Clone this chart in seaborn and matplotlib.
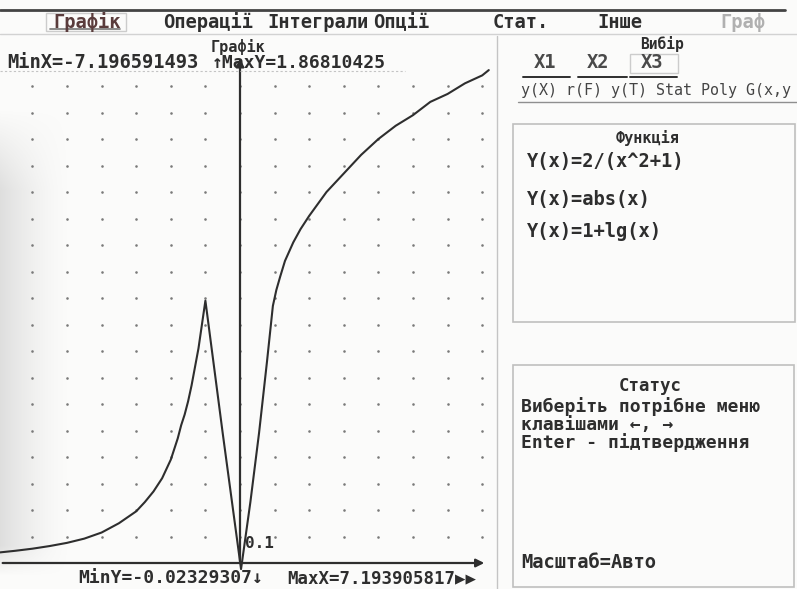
import matplotlib
matplotlib.use("Agg")
import matplotlib.pyplot as plt
import seaborn as sns
import numpy as np
import pandas as pd
from matplotlib.patches import Rectangle
from matplotlib.lines import Line2D

sns.set_theme(style="white")
plt.rcParams['font.family'] = ['DejaVu Sans Mono', 'DejaVu Sans']

# ---- data (piecewise curve) ----
x_left = [-6.94, -6.5, -6.0, -5.5, -5.0, -4.5, -4.0, -3.5, -3.0, -2.75, -2.5, -2.25,
          -2.0, -1.9, -1.8, -1.7, -1.6, -1.5, -1.4, -1.3, -1.2, -1.1, -1.0]
y_left = [0.040, 0.046, 0.054, 0.064, 0.076, 0.092, 0.115, 0.150, 0.195, 0.230, 0.270, 0.320,
          0.390, 0.430, 0.470, 0.520, 0.560, 0.610, 0.670, 0.740, 0.810, 0.900, 0.990]
x_mid = [-0.5, 0.03]
y_mid = [0.49, -0.023]
x_right = [0.30, 0.55, 0.78, 0.95, 1.05, 1.16, 1.30, 1.54, 1.75, 2.0, 2.5, 3.0, 3.5,
           4.0, 4.5, 5.0, 5.5, 6.0, 6.5, 7.0, 7.19]
y_right = [0.23, 0.49, 0.76, 0.97, 1.03, 1.08, 1.14, 1.21, 1.26, 1.31, 1.40, 1.47, 1.54,
           1.60, 1.65, 1.69, 1.74, 1.77, 1.81, 1.84, 1.86]

menu_items = ["Графік", "Операції", "Інтеграли", "Опції", "Стат.", "Інше", "Граф"]
tabs = ["X1", "X2", "X3"]
modes = "y(X) r(F) y(T) Stat Poly G(x,y"
functions = ["Y(x)=2/(x^2+1)", "Y(x)=abs(x)", "Y(x)=1+lg(x)"]
status_lines = ["Виберіть потрібне меню", "клавішами ←, →", "Enter - підтвердження"]

W, H = 797, 589
BG = "#fbfbfa"
fig = plt.figure(figsize=(W / 100, H / 100), dpi=100)
fig.patch.set_facecolor(BG)

def fx(px):
    return px / W

def fy(py):
    return 1 - py / H

INK = "#2e2e2e"
FS = 13.5

# ---- photo shadow on the left edge (background) ----
bg = fig.add_axes([0, 0, 1, 1], zorder=-5)
bg.set_axis_off()
xx, yy = np.meshgrid(np.arange(W), np.arange(H))
alpha = np.clip(1 - xx / 70, 0, 1) ** 1.5 * np.clip((yy - 110) / 80, 0, 1) * np.clip((575 - yy) / 30, 0, 1)
img = np.zeros((H, W, 4))
img[..., :3] = 0.72
img[..., 3] = alpha * 0.42
bg.imshow(img, extent=[0, W, H, 0], aspect="auto")
bg.set_xlim(0, W)
bg.set_ylim(H, 0)

# ---- main plot axes (pixel mapping: x_px = 240 + 34.6*x, y_px = 563 - 265*y) ----
ax_l, ax_r, ax_t, ax_b = 0, 497, 40, 589
ax = fig.add_axes([fx(ax_l), fy(ax_b), fx(ax_r) - fx(ax_l), fy(ax_t) - fy(ax_b)])
ax.set_xlim((ax_l - 240) / 34.6, (ax_r - 240) / 34.6)
ax.set_ylim((563 - ax_b) / 265, (563 - ax_t) / 265)
ax.set_facecolor("none")
for s in ax.spines.values():
    s.set_visible(False)
ax.set_xticks([])
ax.set_yticks([])

# dotted grid
gx, gy = np.meshgrid(np.arange(-7, 8), np.arange(1, 19) / 10)
ax.scatter(gx.ravel(), gy.ravel(), s=3.5, color="#7a7a7a", linewidths=0, zorder=1)

# axes with arrows
ax.annotate("", xy=(0, 1.915), xytext=(0, -0.005),
            arrowprops=dict(arrowstyle="-|>", color=INK, lw=1.6, mutation_scale=12))
ax.annotate("", xy=(7.14, 0), xytext=(-6.94, 0),
            arrowprops=dict(arrowstyle="-|>", color=INK, lw=1.6, mutation_scale=12))

df = pd.DataFrame({"x": x_left + x_mid + x_right, "y": y_left + y_mid + y_right})
sns.lineplot(data=df, x="x", y="y", sort=False, color=INK, lw=1.5, ax=ax, zorder=3)
ax.set_xlabel("")
ax.set_ylabel("")

ax.text(0.15, 0.075, "0.1", fontsize=FS - 2, color=INK, fontweight="bold", va="center")

# ---- texts around plot ----
fig.text(fx(238), fy(47), "Графік", fontsize=FS - 2.5, color=INK, fontweight="bold", ha="center", va="center")
fig.text(fx(198), fy(63), "MinX=-7.196591493", fontsize=FS, color=INK, fontweight="bold", ha="right", va="center")
fig.text(fx(212), fy(63), "↑MaxY=1.86810425", fontsize=FS - 0.5, color=INK, fontweight="bold", va="center")
fig.add_artist(Line2D([0, fx(405)], [fy(71), fy(71)], color="#c4c4c4", lw=0.8, ls=(0, (2, 2))))
fig.text(fx(78), fy(578), "MinY=-0.02329307↓", fontsize=FS - 0.5, color=INK, fontweight="bold", va="center")
fig.text(fx(287), fy(578), "MaxX=7.193905817▶▶", fontsize=FS - 1, color=INK, fontweight="bold", va="center")

# ---- menu bar ----
fig.add_artist(Line2D([0, fx(785)], [fy(10), fy(10)], color="#444", lw=2))
fig.add_artist(Line2D([0, fx(797)], [fy(34), fy(34)], color="#d2d2d2", lw=1))
menu_x = [53, 163, 267, 373, 493, 597, 720]
for i, (t, x) in enumerate(zip(menu_items, menu_x)):
    col = "#b0b0b0" if i == 6 else ("#5a3c3c" if i == 0 else INK)
    fig.text(fx(x), fy(22), t, fontsize=FS, color=col, fontweight="bold", va="center")
fig.add_artist(Line2D([fx(50), fx(120)], [fy(29), fy(29)], color="#777", lw=1.2))
fig.add_artist(Rectangle((fx(46), fy(31)), fx(80), fy(13) - fy(31), fill=False, ec="#cccccc", lw=1))

# ---- right panel ----
fig.add_artist(Line2D([fx(497), fx(497)], [fy(36), 0], color="#c4c4c4", lw=1))
fig.text(fx(662), fy(44), "Вибір", fontsize=FS - 3, color=INK, fontweight="bold", ha="center", va="center")
for t, x, (l, r) in zip(tabs, [545, 598, 652], [(523, 570), (578, 627), (630, 677)]):
    fig.text(fx(x), fy(63), t, fontsize=FS, color="#4a4a4a", fontweight="bold", ha="center", va="center")
    fig.add_artist(Line2D([fx(l), fx(r)], [fy(77), fy(77)], color=INK, lw=1.4))
fig.add_artist(Rectangle((fx(630), fy(73)), fx(48), fy(54) - fy(73), fill=False, ec="#cccccc", lw=1))
fig.text(fx(521), fy(90), modes, fontsize=FS - 2.7, color="#444", va="center")
fig.add_artist(Line2D([fx(518), 1], [fy(102), fy(102)], color="#8f8f8f", lw=1))

fig.add_artist(Rectangle((fx(513), fy(322)), fx(795) - fx(513), fy(124) - fy(322), fill=False, ec="#bfbfbf", lw=1.2))
fig.text(fx(648), fy(138), "Функція", fontsize=FS - 2.5, color=INK, fontweight="bold", ha="center", va="center")
for t, y in zip(functions, [162, 199, 232]):
    fig.text(fx(527), fy(y), t, fontsize=FS, color=INK, fontweight="bold", va="center")

fig.add_artist(Rectangle((fx(513), fy(587)), fx(794) - fx(513), fy(365) - fy(587), fill=False, ec="#bfbfbf", lw=1.2))
fig.text(fx(650), fy(386), "Статус", fontsize=FS - 1, color=INK, fontweight="bold", ha="center", va="center")
for t, y in zip(status_lines, [407, 425, 443]):
    fig.text(fx(521), fy(y), t, fontsize=FS - 0.5, color=INK, fontweight="bold", va="center")
fig.text(fx(521), fy(563), "Масштаб=Авто", fontsize=FS, color=INK, fontweight="bold", va="center")

fig.savefig("out.png", dpi=100, facecolor=fig.get_facecolor())
